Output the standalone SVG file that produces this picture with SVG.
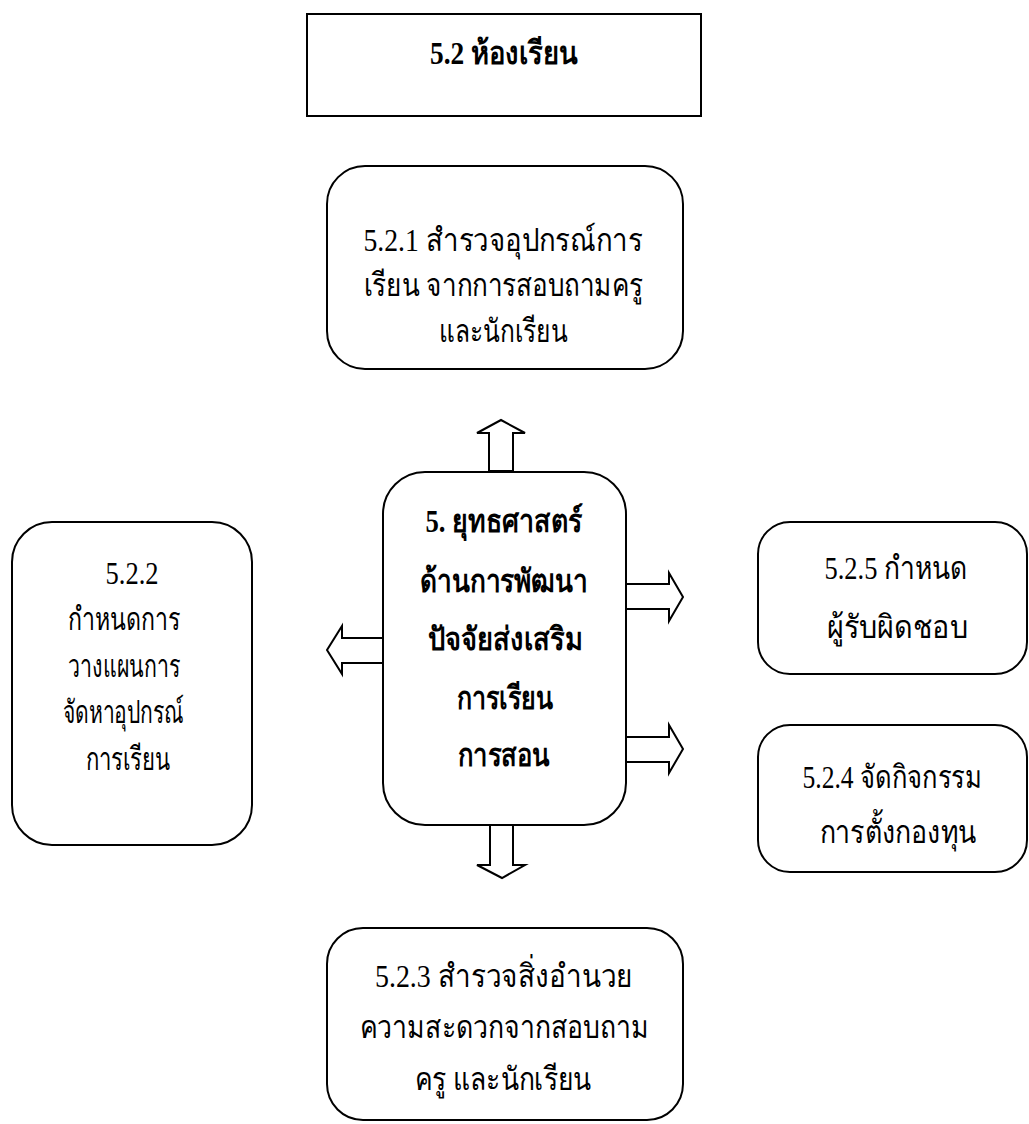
<svg xmlns="http://www.w3.org/2000/svg" width="1029" height="1124" viewBox="0 0 1029 1124">
<style>
.box{fill:#fff;stroke:#000;stroke-width:2}
.arr{fill:#fff;stroke:#000;stroke-width:2;stroke-linejoin:miter}
text{font-family:"Liberation Serif","Noto Sans CJK SC",serif;font-size:32px;fill:#000;text-anchor:middle}
.b{font-weight:bold}
</style>
<rect width="1029" height="1124" fill="#fff"/>
<g id="connectors">
<polygon class="arr" points="489,471 489,433 477,433 501,420 525,433 513,433 513,471"/>
<polygon class="arr" points="383,638 342,638 342,626 327,650 342,674 342,663 383,663"/>
<polygon class="arr" points="626,584 669,584 669,573 683,597 669,621 669,609 626,609"/>
<polygon class="arr" points="626,737 669,737 669,725 683,749 669,773 669,762 626,762"/>
<polygon class="arr" points="490,825 490,865 477,865 502,878 525,865 513,865 513,825"/>
</g>
<g id="title">
<rect class="box" x="307" y="14" width="394" height="102"/>
<text class="b" x="504" y="64" textLength="148" lengthAdjust="spacingAndGlyphs">5.2 ห้องเรียน</text>
</g>
<g id="n521">
<rect class="box" x="327" y="166" width="356" height="203" rx="38" ry="38"/>
<text x="503" y="251" textLength="279" lengthAdjust="spacingAndGlyphs">5.2.1 สำรวจอุปกรณ์การ</text>
<text x="503" y="296" textLength="279" lengthAdjust="spacingAndGlyphs">เรียน จากการสอบถามครู</text>
<text x="503" y="342" textLength="129" lengthAdjust="spacingAndGlyphs">และนักเรียน</text>
</g>
<g id="center">
<rect class="box" x="383" y="472" width="243" height="353" rx="42" ry="42"/>
<text class="b" x="504" y="532" textLength="157" lengthAdjust="spacingAndGlyphs">5. ยุทธศาสตร์</text>
<text class="b" x="504" y="592" textLength="168" lengthAdjust="spacingAndGlyphs">ด้านการพัฒนา</text>
<text class="b" x="505" y="650" textLength="155" lengthAdjust="spacingAndGlyphs">ปัจจัยส่งเสริม</text>
<text class="b" x="505" y="709" textLength="96" lengthAdjust="spacingAndGlyphs">การเรียน</text>
<text class="b" x="504" y="766" textLength="92" lengthAdjust="spacingAndGlyphs">การสอน</text>
</g>
<g id="n522">
<rect class="box" x="12" y="522" width="240" height="323" rx="40" ry="40"/>
<text x="132" y="584" textLength="53" lengthAdjust="spacingAndGlyphs">5.2.2</text>
<text x="124" y="630" textLength="112" lengthAdjust="spacingAndGlyphs">กำหนดการ</text>
<text x="124" y="677" textLength="112" lengthAdjust="spacingAndGlyphs">วางแผนการ</text>
<text x="123" y="723" textLength="121" lengthAdjust="spacingAndGlyphs">จัดหาอุปกรณ์</text>
<text x="128" y="770" textLength="85" lengthAdjust="spacingAndGlyphs">การเรียน</text>
</g>
<g id="n525">
<rect class="box" x="758" y="522" width="269" height="152" rx="32" ry="32"/>
<text x="896" y="579" textLength="143" lengthAdjust="spacingAndGlyphs">5.2.5 กำหนด</text>
<text x="897" y="638" textLength="141" lengthAdjust="spacingAndGlyphs">ผู้รับผิดชอบ</text>
</g>
<g id="n524">
<rect class="box" x="758" y="725" width="269" height="147" rx="32" ry="32"/>
<text x="892" y="788" textLength="179" lengthAdjust="spacingAndGlyphs">5.2.4 จัดกิจกรรม</text>
<text x="898" y="843" textLength="157" lengthAdjust="spacingAndGlyphs">การตั้งกองทุน</text>
</g>
<g id="n523">
<rect class="box" x="327" y="928" width="356" height="192" rx="36" ry="36"/>
<text x="504" y="987" textLength="258" lengthAdjust="spacingAndGlyphs">5.2.3 สำรวจสิ่งอำนวย</text>
<text x="504" y="1038" textLength="288" lengthAdjust="spacingAndGlyphs">ความสะดวกจากสอบถาม</text>
<text x="503" y="1090" textLength="177" lengthAdjust="spacingAndGlyphs">ครู และนักเรียน</text>
</g>
</svg>
